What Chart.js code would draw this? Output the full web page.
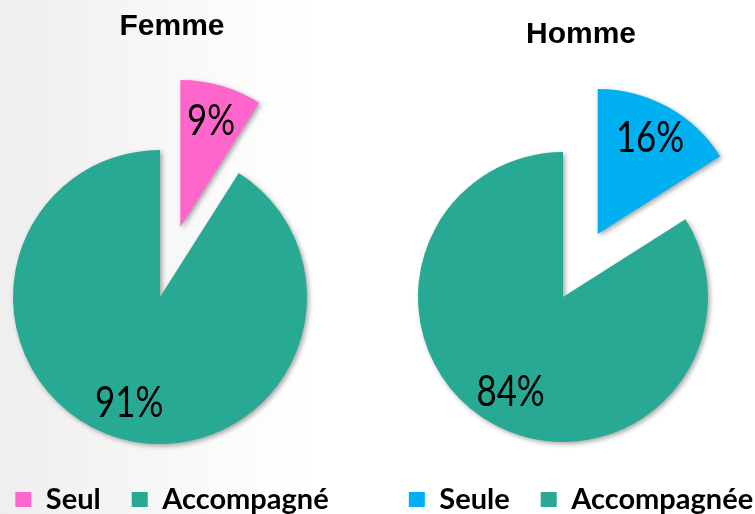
<!DOCTYPE html>
<html><head><meta charset="utf-8">
<script src="https://cdn.jsdelivr.net/npm/chart.js@4/dist/chart.umd.min.js"></script>
<style>
html,body{margin:0;padding:0;width:755px;height:514px;overflow:hidden;}
body{position:relative;background:linear-gradient(90deg,#eeeeee 0%,#f5f5f5 16%,#fbfbfb 30%,#ffffff 42%,#ffffff 100%);}
canvas{position:absolute;top:0;}
#c1{left:-28px;}
#c2{left:371px;}
</style></head><body>
<canvas id="c1" width="400" height="524"></canvas>
<canvas id="c2" width="420" height="524"></canvas>
<script>
// ---- data ----
const femmeTitle = 'Femme';
const femmeLabels = ['Seul', 'Accompagné'];
const femmeValues = [9, 91];
const hommeTitle = 'Homme';
const hommeLabels = ['Seule', 'Accompagnée'];
const hommeValues = [16, 84];

// ---- styles ----
const PINK = '#FF66CC', BLUE = '#00B0F0', TEAL = '#27A993';

// Draw each slice translated outward (Excel-like "explosion"), with a soft shadow
const explodePlugin = {
  id: 'explode',
  beforeDatasetDraw(chart, args, opts) {
    const ctx = chart.ctx;
    const dist = opts.distances || [];
    args.meta.data.forEach((arc, i) => {
      const mid = (arc.startAngle + arc.endAngle) / 2;
      const d = dist[i] || 0;
      ctx.save();
      ctx.translate(Math.cos(mid) * d, Math.sin(mid) * d);
      ctx.shadowColor = 'rgba(0,0,0,0.35)';
      ctx.shadowBlur = 5;
      ctx.shadowOffsetX = 2;
      ctx.shadowOffsetY = 2;
      arc.draw(ctx);
      ctx.restore();
    });
    return false;
  }
};

const pctPlugin = {
  id: 'pct',
  afterDatasetsDraw(chart, args, opts) {
    const ctx = chart.ctx;
    const meta = chart.getDatasetMeta(0);
    const vals = chart.data.datasets[0].data;
    const dist = opts.distances || [];
    meta.data.forEach((arc, i) => {
      const mid = (arc.startAngle + arc.endAngle) / 2;
      const d = (dist[i] || 0) + arc.outerRadius * opts.position;
      const x = arc.x + Math.cos(mid) * d;
      const y = arc.y + Math.sin(mid) * d;
      ctx.save();
      ctx.translate(x, y);
      ctx.scale(opts.scaleX, 1);
      ctx.font = opts.font;
      ctx.fillStyle = '#000';
      ctx.textAlign = 'center';
      ctx.textBaseline = 'middle';
      ctx.fillText(vals[i] + '%', 0, 0);
      ctx.restore();
    });
  }
};

function makePie(id, title, labels, values, colors, radius, explode, titleTop, titleBottom, spacer) {
  return new Chart(document.getElementById(id), {
    type: 'pie',
    data: {
      labels: labels,
      datasets: [{
        data: values,
        backgroundColor: colors,
        borderWidth: 0,
        radius: radius,
        clip: false
      }]
    },
    plugins: [explodePlugin, pctPlugin],
    options: {
      responsive: false,
      animation: false,
      events: [],
      layout: { padding: 0 },
      plugins: {
        title: {
          display: true, text: title, color: '#000',
          font: { family: 'Liberation Sans', size: 30, weight: 'bold', lineHeight: 1.2 },
          padding: { top: titleTop, bottom: titleBottom }
        },
        subtitle: {
          display: true, position: 'right', text: '', color: 'rgba(0,0,0,0)',
          font: { size: 10, lineHeight: 1 }, padding: { top: spacer, bottom: 0 }
        },
        legend: {
          display: true, position: 'bottom',
          labels: {
            boxWidth: 16, boxHeight: 15, padding: 31, color: '#000',
            font: { family: 'Lato', size: 29, weight: 'bold' }
          }
        },
        tooltip: { enabled: false },
        explode: { distances: explode },
        pct: { distances: explode, position: 0.75, scaleX: 0.81, font: '43px Lato' }
      }
    }
  });
}

makePie('c1', femmeTitle, femmeLabels, femmeValues, [PINK, TEAL], 147, [73, 0], 9, 95, 14);
makePie('c2', hommeTitle, hommeLabels, hommeValues, [BLUE, TEAL], 145, [72, 0], 17, 87, 26);
</script>
</body></html>
